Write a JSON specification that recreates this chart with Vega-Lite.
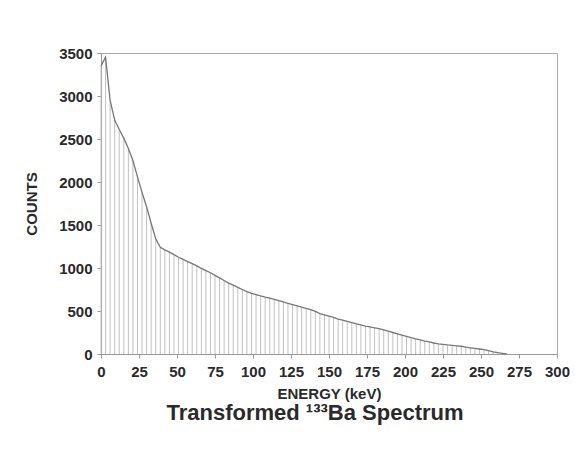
{
  "$schema": "https://vega.github.io/schema/vega-lite/v6.json",
  "autosize": {"type": "none"},
  "width": 456,
  "height": 301,
  "padding": {"left": 101, "top": 53, "right": 18, "bottom": 106},
  "background": "white",
  "config": {
    "view": {"stroke": "#aaaaaa", "strokeWidth": 1},
    "font": "Liberation Sans",
    "axis": {
      "grid": false,
      "domainColor": "#999999",
      "tickColor": "#999999",
      "tickSize": 4,
      "labelFont": "Liberation Sans",
      "labelFontWeight": "bold",
      "labelFontSize": 15,
      "labelColor": "#2a2a2a",
      "labelFlush": false,
      "titleFont": "Liberation Sans",
      "titleFontWeight": "bold",
      "titleFontSize": 15,
      "titleColor": "#2a2a2a"
    }
  },
  "title": {
    "text": "Transformed ¹³³Ba Spectrum",
    "orient": "bottom",
    "anchor": "middle",
    "font": "Liberation Sans",
    "fontSize": 22,
    "fontWeight": "bold",
    "color": "#2a2a2a",
    "offset": 2,
    "dx": -14
  },
  "data": {
    "values": [
      {"e": 0, "c": 3350}, {"e": 3, "c": 3450}, {"e": 6, "c": 2950}, {"e": 9, "c": 2720},
      {"e": 12, "c": 2610}, {"e": 15, "c": 2510}, {"e": 18, "c": 2390}, {"e": 21, "c": 2250},
      {"e": 24, "c": 2060}, {"e": 27, "c": 1880}, {"e": 30, "c": 1710}, {"e": 33, "c": 1520},
      {"e": 36, "c": 1340}, {"e": 39, "c": 1240}, {"e": 42, "c": 1210}, {"e": 45, "c": 1185},
      {"e": 48, "c": 1155}, {"e": 51, "c": 1125}, {"e": 54, "c": 1100}, {"e": 57, "c": 1075},
      {"e": 60, "c": 1050}, {"e": 63, "c": 1025}, {"e": 66, "c": 995}, {"e": 69, "c": 970},
      {"e": 72, "c": 945}, {"e": 75, "c": 915}, {"e": 78, "c": 885}, {"e": 81, "c": 855},
      {"e": 84, "c": 825}, {"e": 87, "c": 800}, {"e": 90, "c": 775}, {"e": 93, "c": 750},
      {"e": 96, "c": 725}, {"e": 99, "c": 705}, {"e": 102, "c": 690}, {"e": 105, "c": 675},
      {"e": 108, "c": 660}, {"e": 111, "c": 650}, {"e": 114, "c": 635}, {"e": 117, "c": 620},
      {"e": 120, "c": 605}, {"e": 123, "c": 590}, {"e": 126, "c": 575}, {"e": 129, "c": 560},
      {"e": 132, "c": 545}, {"e": 135, "c": 530}, {"e": 138, "c": 515}, {"e": 141, "c": 495},
      {"e": 144, "c": 470}, {"e": 147, "c": 455}, {"e": 150, "c": 440}, {"e": 153, "c": 425},
      {"e": 156, "c": 405}, {"e": 159, "c": 395}, {"e": 162, "c": 380}, {"e": 165, "c": 365},
      {"e": 168, "c": 350}, {"e": 171, "c": 338}, {"e": 174, "c": 325}, {"e": 177, "c": 315},
      {"e": 180, "c": 305}, {"e": 183, "c": 295}, {"e": 186, "c": 280}, {"e": 189, "c": 265},
      {"e": 192, "c": 250}, {"e": 195, "c": 235}, {"e": 198, "c": 220}, {"e": 201, "c": 205},
      {"e": 204, "c": 190}, {"e": 207, "c": 175}, {"e": 210, "c": 163}, {"e": 213, "c": 150},
      {"e": 216, "c": 140}, {"e": 219, "c": 128}, {"e": 222, "c": 118}, {"e": 225, "c": 112},
      {"e": 228, "c": 105}, {"e": 231, "c": 100}, {"e": 234, "c": 95}, {"e": 237, "c": 90},
      {"e": 240, "c": 80}, {"e": 243, "c": 72}, {"e": 246, "c": 65}, {"e": 249, "c": 58},
      {"e": 252, "c": 50}, {"e": 255, "c": 40}, {"e": 258, "c": 25}, {"e": 261, "c": 15},
      {"e": 264, "c": 8}, {"e": 267, "c": 2}
    ]
  },
  "encoding": {
    "x": {
      "field": "e", "type": "quantitative",
      "scale": {"domain": [0, 300], "nice": false, "zero": true},
      "axis": {"values": [0, 25, 50, 75, 100, 125, 150, 175, 200, 225, 250, 275, 300], "format": "d", "title": "ENERGY (keV)", "titlePadding": 7, "labelPadding": 6}
    },
    "y": {
      "field": "c", "type": "quantitative",
      "scale": {"domain": [0, 3500], "nice": false},
      "axis": {"values": [0, 500, 1000, 1500, 2000, 2500, 3000, 3500], "format": "d", "title": "COUNTS", "titlePadding": 19, "labelPadding": 5}
    }
  },
  "layer": [
    {
      "mark": {"type": "rule", "color": "#c0c0c0", "strokeWidth": 1},
      "encoding": {"y2": {"datum": 0}}
    },
    {
      "mark": {"type": "line", "color": "#777777", "strokeWidth": 1.3}
    }
  ]
}
